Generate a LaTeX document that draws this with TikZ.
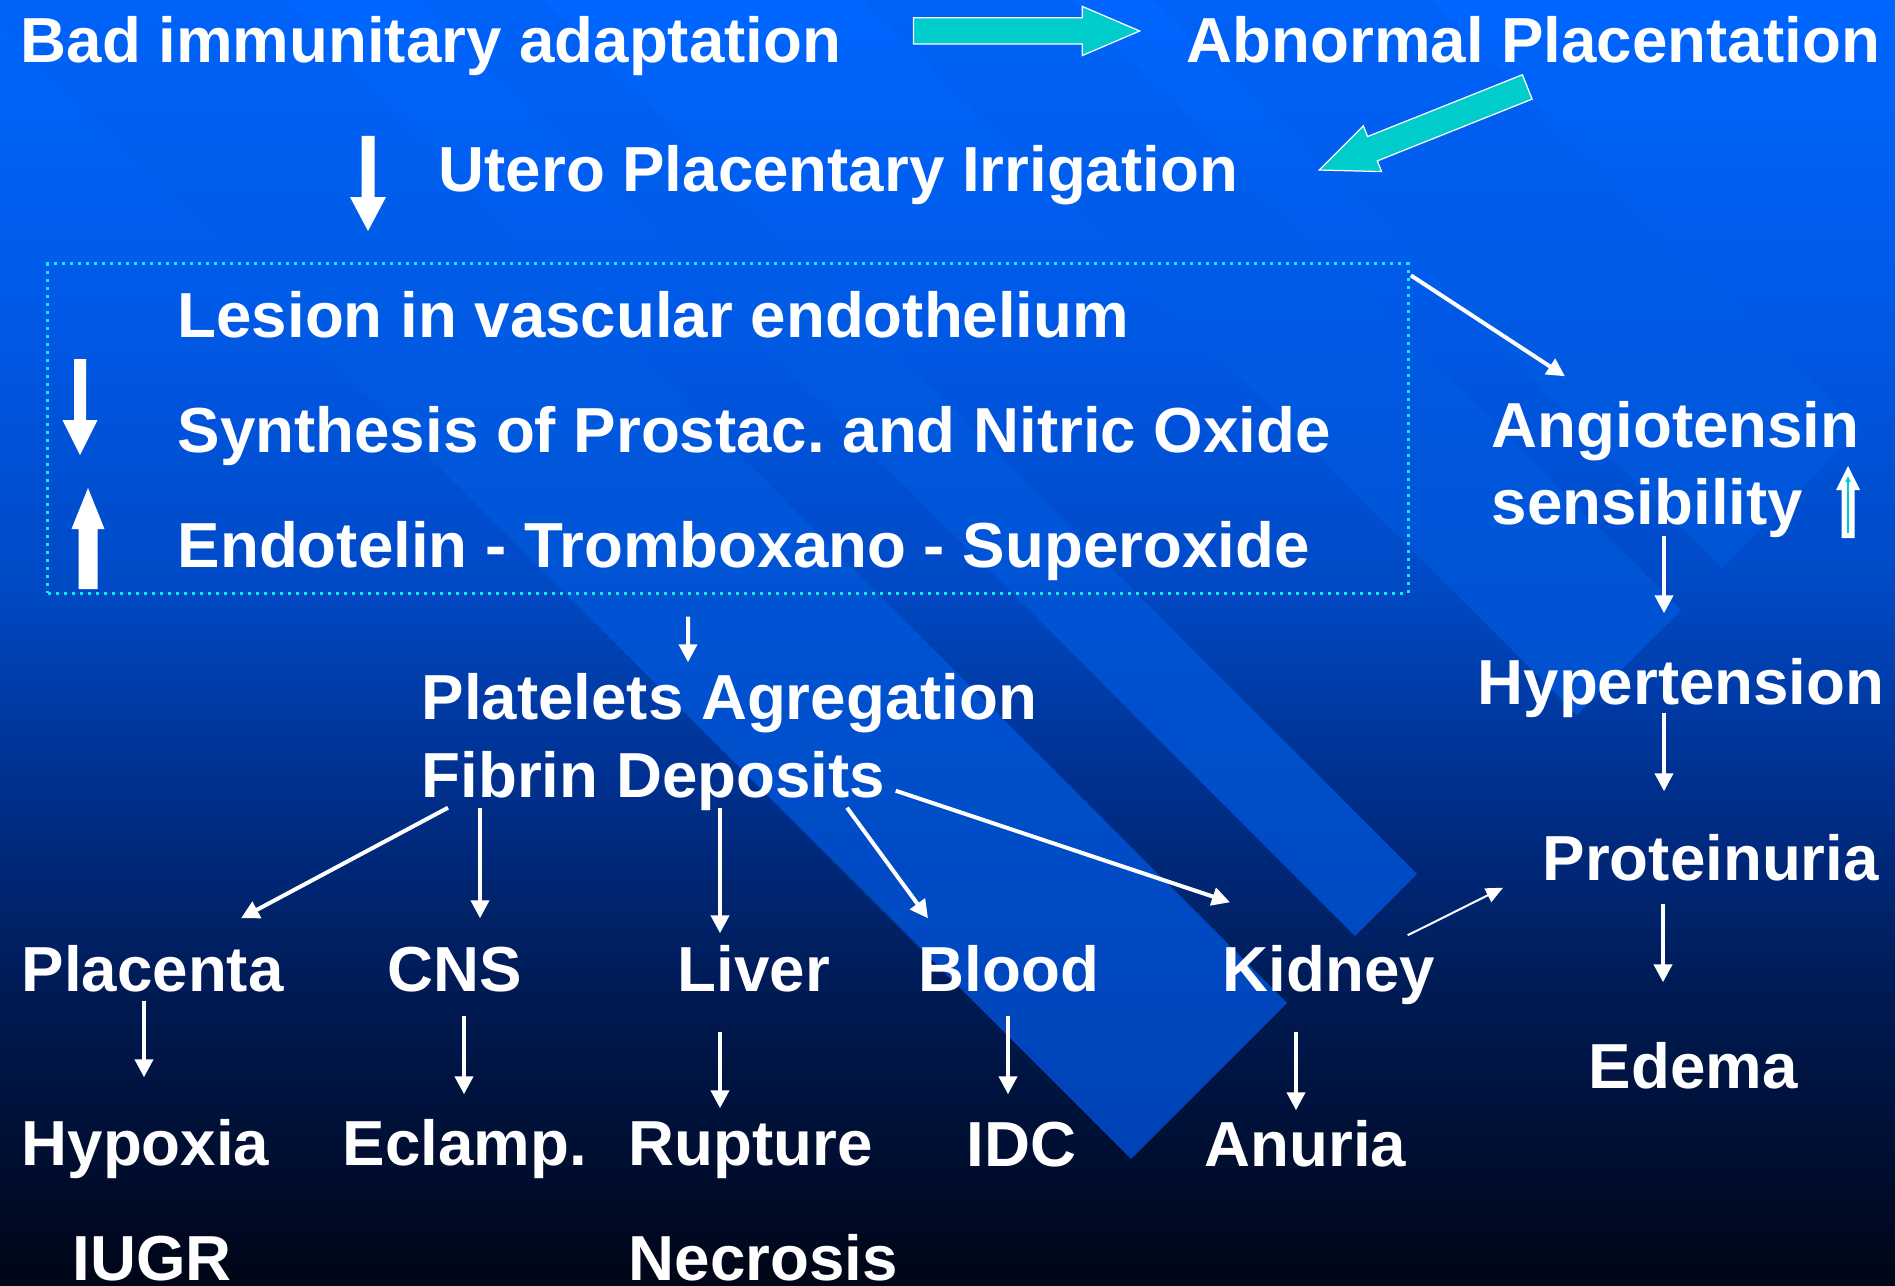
\documentclass[tikz,border=0pt]{standalone}
\usepackage{fontspec}
\setmainfont{Liberation Sans}
\usetikzlibrary{arrows.meta,calc,shapes.arrows}
\frenchspacing

\definecolor{arrcyan}{RGB}{0,204,204}
\definecolor{boxcyan}{RGB}{20,235,245}
\definecolor{bg0}{RGB}{0,102,255}
\definecolor{bg1}{RGB}{0,90,232}
\definecolor{bg2}{RGB}{0,74,198}
\definecolor{bg3}{RGB}{0,46,138}
\definecolor{bg4}{RGB}{0,26,82}
\definecolor{bg5}{RGB}{0,11,40}
\definecolor{bg6}{RGB}{0,6,22}
\definecolor{st0}{RGB}{0,98,248}
\definecolor{st1}{RGB}{0,84,212}
\definecolor{st2}{RGB}{0,62,175}

\pgfdeclareverticalshading{slidebg}{100bp}{color(0bp)=(bg6); color(25bp)=(bg6); color(28.3bp)=(bg5); color(36.1bp)=(bg4); color(43.9bp)=(bg3); color(52.4bp)=(bg2); color(63.3bp)=(bg1); color(75bp)=(bg0); color(100bp)=(bg0)}
\pgfdeclareverticalshading{stripebg}{100bp}{color(0bp)=(st2); color(25bp)=(st2); color(52bp)=(st1); color(75bp)=(st0); color(100bp)=(st0)}

\tikzset{
  lbl/.style={text=white, font=\bfseries\fontsize{18.1}{21.7}\selectfont, anchor=base west,
    inner sep=0pt, text height=0.46cm, text depth=0.13cm, xshift=-0.02cm},
  arr/.style={white, line width=0.04cm, -{Triangle[length=0.18cm,width=0.18cm]}},
  thinarr/.style={white, line width=0.02cm, -{Triangle[length=0.17cm,width=0.15cm]}},
  dotbox/.style={draw=boxcyan, line width=0.03cm, dash pattern=on 0.03cm off 0.05cm, inner sep=0pt},
  cyanarrow/.style={single arrow, draw=white, line width=0.35pt, fill=arrcyan, inner xsep=0pt,
    inner ysep=0.125cm, minimum width=0pt, single arrow head extend=0.115cm,
    single arrow tip angle=46.4, minimum height=2.26cm}
}

\begin{document}
\begin{tikzpicture}[x=0.01cm, y=-0.01cm]
  \useasboundingbox (0,0) rectangle (1895,1285);
  % background and diagonal bands
  \shade[shading=slidebg] (0,0) rectangle (1895,1285);
  \foreach \tx/\ty/\rx/\ry in {1131/1159/1287/1003, 1355/936/1417/874, 1577/715/1681/610, 1722/568/1860/430}{
    \begin{scope}
      \clip (\tx,\ty) -- (\rx,\ry) -- (\rx-1400,\ry-1400) -- (\tx-1400,\ty-1400) -- cycle;
      \shade[shading=stripebg] (0,0) rectangle (1895,1285);
    \end{scope}
  }

  % texts
  \node[lbl] (bad) at (22,63) {Bad immunitary adaptation};
  \node[lbl] (abn) at (1188,63) {Abnormal Placentation};
  \node[lbl] (utero) at (440,191) {Utero Placentary Irrigation};
  \node[dotbox, minimum width=13.6cm, minimum height=3.29cm] (box) at (728,428.5) {};
  \node[lbl] (lesion) at (179,337) {Lesion in vascular endothelium};
  \node[lbl] (synth) at (179,452) {Synthesis of Prostac. and Nitric Oxide};
  \node[lbl] (endo) at (179,567) {Endotelin - Tromboxano - Superoxide};
  \node[lbl] (plat) at (423,719) {Platelets Agregation};
  \node[lbl] (fibrin) at (423,797) {Fibrin Deposits};
  \node[lbl] (angio) at (1493,447) {Angiotensin};
  \node[lbl] (sensib) at (1493,524) {sensibility};
  \node[lbl] (hyper) at (1479,704) {Hypertension};
  \node[lbl] (prot) at (1544,880) {Proteinuria};
  \node[lbl] (edema) at (1590,1088) {Edema};
  \node[lbl] (placenta) at (23,991) {Placenta};
  \node[lbl] (cns) at (389,991) {CNS};
  \node[lbl] (liver) at (679,991) {Liver};
  \node[lbl] (blood) at (920,991) {Blood};
  \node[lbl] (kidney) at (1224,991) {Kidney};
  \node[lbl] (hypoxia) at (23,1165) {Hypoxia};
  \node[lbl] (eclamp) at (344,1165) {Eclamp.};
  \node[lbl] (rupture) at (630,1165) {Rupture};
  \node[lbl] (idc) at (968,1166) {IDC};
  \node[lbl] (anuria) at (1206,1166) {Anuria};
  \node[lbl] (iugr) at (74,1280) {IUGR};
  \node[lbl] (necrosis) at (630,1280) {Necrosis};

  % cyan block arrows
  \node[cyanarrow, anchor=tail] (toabn) at ($(bad.east)+(71,-15.5)$) {};
  \node[cyanarrow, anchor=tail, rotate=201.76, minimum height=2.24cm] (toutero) at ($(abn.south)+(-5.5,10)$) {};

  % up / down marks
  \fill[white] (361.5,136) -- (374.5,136) -- (374.5,197) -- (386,197) -- (368,231) -- (350,197) -- (361.5,197) -- cycle;
  \fill[white] (74,359) -- (86,359) -- (86,420) -- (97.5,420) -- (80,455) -- (62.5,420) -- (74,420) -- cycle;
  \fill[white] (78.5,589) -- (97.5,589) -- (97.5,529) -- (104.5,529) -- (88,488) -- (71.5,529) -- (78.5,529) -- cycle;
  \fill[white] (1841.5,538) -- (1854.5,538) -- (1854.5,490) -- (1860,490) -- (1848,466) -- (1836,490) -- (1841.5,490) -- cycle;
  \draw[arrcyan, line width=0.013cm, -{Triangle[length=0.06cm,width=0.05cm]}] (1848,533) -- (1848,476);

  % connectors
  \draw[arr] ($(box.north east)+(1,13)$) -- ($(angio.north west)+(74,-24)$);
  \draw[arr] ($(box.south)+(-40,22)$) -- ($(plat.north west)+(267,-10)$);
  \draw[arr] ($(fibrin.south west)+(27,-3)$) -- ($(placenta.north west)+(220,-26)$);
  \draw[arr] ($(fibrin.south west)+(59,-3)$) -- ($(cns.north west)+(93,-26)$);
  \draw[arr] ($(fibrin.south west)+(299,-3)$) -- ($(liver.north west)+(43,-11)$);
  \draw[arr] ($(fibrin.south west)+(426,-3)$) -- ($(blood.north west)+(10,-26)$);
  \draw[arr] ($(fibrin.south east)+(10,-20)$) -- ($(kidney.north west)+(8,-42)$);
  \draw[arr] ($(sensib.south west)+(173,-2)$) -- ($(hyper.north west)+(187,-44)$);
  \draw[arr] ($(hyper.south west)+(187,-5)$) -- ($(prot.north west)+(122,-42)$);
  \draw[arr] ($(prot.south west)+(121,10)$) -- ($(edema.north west)+(75,-59)$);
  \draw[thinarr] ($(kidney.north east)+(-28,-9)$) -- ($(prot.south west)+(-39,-6)$);
  \draw[arr] ($(placenta.south west)+(123,-4)$) -- ($(hypoxia.north west)+(123,-41)$);
  \draw[arr] ($(cns.south west)+(77,11)$) -- ($(eclamp.north west)+(122,-24)$);
  \draw[arr] ($(liver.south west)+(43,27)$) -- ($(rupture.north west)+(92,-10)$);
  \draw[arr] ($(blood.south west)+(90,11)$) -- ($(idc.north west)+(42,-25)$);
  \draw[arr] ($(kidney.south west)+(74,27)$) -- ($(anuria.north west)+(92,-9)$);
\end{tikzpicture}
\end{document}
